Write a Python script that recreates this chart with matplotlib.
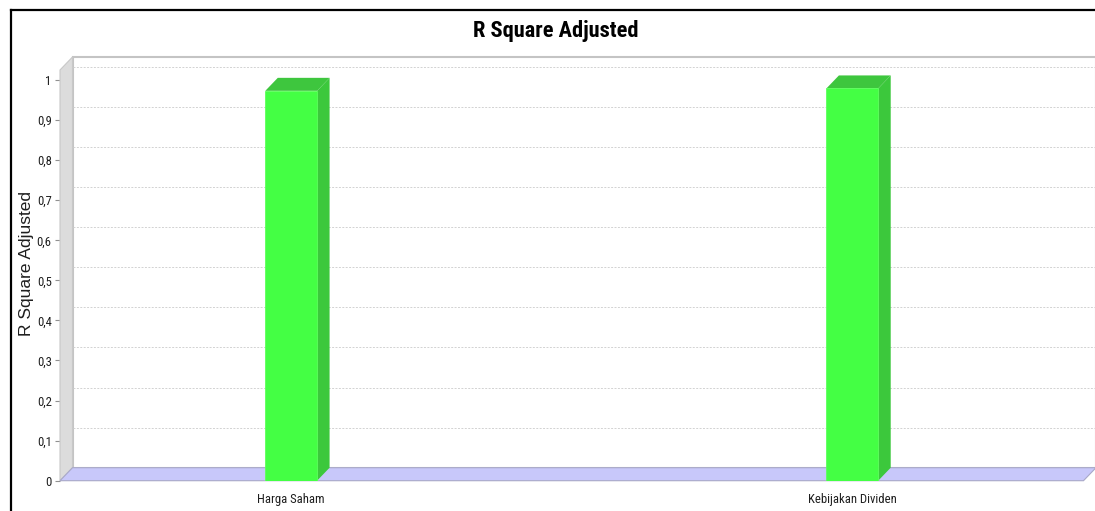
import matplotlib
matplotlib.use("Agg")
import matplotlib.pyplot as plt
import numpy as np
from matplotlib import font_manager
from matplotlib.font_manager import FontProperties
from matplotlib.patches import Polygon, Rectangle
from matplotlib.lines import Line2D
from matplotlib.ticker import FuncFormatter

# data
categories = ["Harga Saham", "Kebijakan Dividen"]
r_square_adjusted = [0.973, 0.979]
y_ticks = [0, 0.1, 0.2, 0.3, 0.4, 0.5, 0.6, 0.7, 0.8, 0.9, 1.0]

TITLE = "R Square Adjusted"
Y_LABEL = "R Square Adjusted"

W, H = 1095, 511
DEPTH_X, DEPTH_Y = 12.5, 13.0  # pixels of 3D offset

FRONT_CLR = "#44ff44"
SIDE_CLR = "#3cc83c"
TOP_CLR = "#3ec63e"
FLOOR_CLR = "#c8c8fa"
WALL_CLR = "#dcdcdc"
EDGE_CLR = "#c4c4c4"


def _is_narrow(f):
    tag = (f.name + " " + f.fname).lower()
    return "narrow" in tag or "condensed" in tag or f.stretch in ("condensed", "semi-condensed")


def _is_bold(f):
    return f.weight in (700, "bold") or "bold" in f.fname.lower()


def pick_narrow(bold=False):
    prefs = ["liberation sans narrow", "roboto condensed", "dejavu sans", "open sans", "noto sans", "roboto"]
    found = []
    for f in font_manager.fontManager.ttflist:
        if f.style != "normal" or not _is_narrow(f):
            continue
        if _is_bold(f) != bold:
            continue
        low = f.fname.lower()
        if "light" in low or "thin" in low or "black" in low or "semibold" in low or "medium" in low:
            continue
        name = f.name.lower()
        rank = next((i for i, p in enumerate(prefs) if name.startswith(p)), len(prefs))
        found.append((rank, f.fname))
    if found:
        found.sort()
        return FontProperties(fname=found[0][1])
    return FontProperties(family=["Liberation Sans", "DejaVu Sans"], weight="bold" if bold else "normal")


def fit_width(txt, target_px, fig):
    renderer = fig.canvas.get_renderer()
    for _ in range(3):
        width = txt.get_window_extent(renderer).width
        txt.set_fontsize(txt.get_fontsize() * target_px / width)
    return txt.get_fontsize()


narrow = pick_narrow()
narrow_bold = pick_narrow(bold=True)

fig = plt.figure(figsize=(W / 100, H / 100), dpi=100)
fig.patch.set_facecolor("white")

# front data area in pixels
left_px, right_px = 60.0, 1083.5
bottom_px, top_px = 480.7, 70.0
ax = fig.add_axes([left_px / W, 1 - bottom_px / H, (right_px - left_px) / W, (bottom_px - top_px) / H])
ax.set_xlim(-0.412, 1.412)
ax.set_ylim(0, 1.025)
ax.set_facecolor("none")
for spine in ax.spines.values():
    spine.set_visible(False)

# depth in axes and data units
ddx_ax = DEPTH_X / (right_px - left_px)
ddy_ax = DEPTH_Y / (bottom_px - top_px)
x0, x1 = ax.get_xlim()
y0, y1 = ax.get_ylim()
ddx = ddx_ax * (x1 - x0)
ddy = ddy_ax * (y1 - y0)

# back wall
ax.add_patch(Rectangle((ddx_ax, ddy_ax), 1, 1, transform=ax.transAxes, facecolor="white",
                       edgecolor=EDGE_CLR, linewidth=1.5, clip_on=False, zorder=0))

# gridlines on the back wall
ax.hlines(np.array(y_ticks[1:]) + ddy, x0 + ddx, x1 + ddx, colors="#d2d2d2",
          linestyles=(0, (2, 1.5)), linewidth=0.7, clip_on=False, zorder=1)

# left wall
ax.add_patch(Polygon([(0, 0), (0, 1), (ddx_ax, 1 + ddy_ax), (ddx_ax, ddy_ax)], closed=True,
                     transform=ax.transAxes, facecolor=WALL_CLR, edgecolor="#c8c8c8",
                     linewidth=0.8, clip_on=False, zorder=2))

# floor
ax.add_patch(Polygon([(0, 0), (1, 0), (1 + ddx_ax, ddy_ax), (ddx_ax, ddy_ax)], closed=True,
                     transform=ax.transAxes, facecolor=FLOOR_CLR, edgecolor="#a8a8c8",
                     linewidth=0.8, clip_on=False, zorder=2))

# bars
xs = np.arange(len(categories))
bar_w = 0.0923
for x, v in zip(xs, r_square_adjusted):
    xl, xr = x - bar_w / 2, x + bar_w / 2
    ax.add_patch(Polygon([(xr, 0), (xr + ddx, ddy), (xr + ddx, v + ddy), (xr, v)], closed=True,
                         facecolor=SIDE_CLR, edgecolor="none", zorder=3))
    ax.add_patch(Polygon([(xl, v), (xl + ddx, v + ddy), (xr + ddx, v + ddy), (xr, v)], closed=True,
                         facecolor=TOP_CLR, edgecolor="none", zorder=3))
ax.bar(xs, r_square_adjusted, width=bar_w, color=FRONT_CLR, edgecolor="#5cff5c",
       linewidth=0.6, zorder=4)

# title: fit to the width it has in the reference
title = fig.text(555.5 / W, 1 - 30.5 / H, TITLE, ha="center", va="center",
                 fontproperties=narrow_bold, fontsize=16, color="black")
fit_width(title, 165, fig)

# category labels: size taken from the width of "Harga Saham"
probe = fig.text(0, 0, categories[0], fontproperties=narrow, fontsize=9.5)
label_fs = fit_width(probe, 64, fig)
probe.remove()

ax.set_yticks(y_ticks)
ax.yaxis.set_major_formatter(FuncFormatter(lambda v, _: f"{v:g}".replace(".", ",")))
ax.tick_params(axis="y", length=3.5, width=0.8, color="#909090", pad=2.5)
ax.set_xticks(xs)
ax.set_xticklabels(categories)
ax.tick_params(axis="x", length=0, pad=9)
for lbl in ax.get_yticklabels() + ax.get_xticklabels():
    lbl.set_fontproperties(narrow)
    lbl.set_fontsize(label_fs * 1.05)
    lbl.set_color("#1e1e1e")

fig.text(27 / W, 1 - 264 / H, Y_LABEL, ha="center", va="center", rotation=90,
         fontsize=12.5, family=["Liberation Sans", "DejaVu Sans"], color="#1e1e1e")

# chart border (left and top visible)
fig.add_artist(Line2D([10.5 / W, 10.5 / W], [0, 1 - 10.5 / H], color="black", linewidth=1.6))
fig.add_artist(Line2D([10.5 / W, 1], [1 - 10.5 / H, 1 - 10.5 / H], color="black", linewidth=1.6))

fig.savefig("out.png", dpi=100, facecolor="white")
